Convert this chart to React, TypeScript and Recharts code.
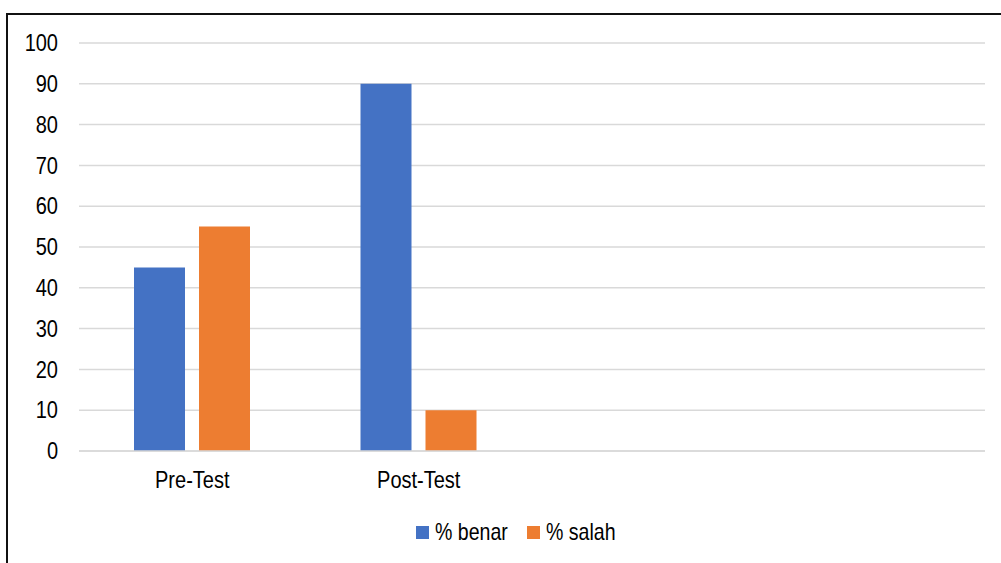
import { BarChart, Bar, XAxis, YAxis, CartesianGrid, Legend } from "recharts";

const categories = ["Pre-Test", "Post-Test", " ", "  "];
const benar = [45, 90, null, null];
const salah = [55, 10, null, null];
const yTicks = [0, 10, 20, 30, 40, 50, 60, 70, 80, 90, 100];

const series = [
  { key: "benar", name: "% benar", color: "#4472C4" },
  { key: "salah", name: "% salah", color: "#ED7D31" },
];

const data = categories.map((name, i) => ({
  name,
  benar: benar[i],
  salah: salah[i],
}));

const FONT = "'Liberation Sans', Arial, sans-serif";
const SQUEEZE = 0.87;

function YTick({ x, y, payload }: any) {
  return (
    <g transform={`translate(${x},${y}) scale(${SQUEEZE},1)`}>
      <text textAnchor="end" dy="0.36em" fontSize={23} fill="#000" fontFamily={FONT}>
        {payload.value}
      </text>
    </g>
  );
}

function XTick({ x, y, payload }: any) {
  return (
    <g transform={`translate(${x},${y}) scale(${SQUEEZE},1)`}>
      <text textAnchor="middle" dy="0.71em" fontSize={23} fill="#000" fontFamily={FONT}>
        {payload.value}
      </text>
    </g>
  );
}

function LegendBox() {
  return (
    <svg width={320} height={40} style={{ display: "block", overflow: "visible" }}>
      {series.map((s, i) => (
        <g key={s.key} transform={`translate(${i * 111},0)`}>
          <rect x={0} y={5} width={13} height={13} fill={s.color} />
          <g transform={`translate(19,19) scale(0.85,1)`}>
            <text fontSize={23} fill="#000" fontFamily={FONT}>
              {s.name}
            </text>
          </g>
        </g>
      ))}
    </svg>
  );
}

export default function App() {
  return (
    <div
      style={{
        position: "fixed",
        left: 0,
        top: 0,
        width: 1001,
        height: 563,
        overflow: "hidden",
        background: "#fff",
      }}
    >
      <div
        style={{
          position: "absolute",
          left: 6,
          top: 13,
          width: 1100,
          height: 700,
          border: "2px solid #111",
        }}
      />
      <div style={{ position: "absolute", left: 0, top: 0 }}>
        <BarChart
          width={1001}
          height={563}
          data={data}
          margin={{ top: 43, right: 16, bottom: 82, left: 0 }}
          barSize={51}
          barGap={14}
        >
          <CartesianGrid vertical={false} stroke="#D9D9D9" strokeWidth={1.5} />
          <XAxis
            dataKey="name"
            height={30}
            axisLine={{ stroke: "#D9D9D9", strokeWidth: 1.5 }}
            tickLine={false}
            tickSize={0}
            tickMargin={21}
            tick={<XTick />}
            interval={0}
          />
          <YAxis
            width={79}
            domain={[0, 100]}
            ticks={yTicks}
            axisLine={false}
            tickLine={false}
            tickSize={0}
            tickMargin={21}
            tick={<YTick />}
          />
          <Legend
            layout="horizontal"
            verticalAlign="middle"
            align="center"
            content={<LegendBox />}
            wrapperStyle={{ position: "absolute", left: 416, top: 521, width: 320, height: 40 }}
          />
          {series.map((s) => (
            <Bar
              key={s.key}
              dataKey={s.key}
              name={s.name}
              fill={s.color}
              isAnimationActive={false}
            />
          ))}
        </BarChart>
      </div>
    </div>
  );
}
